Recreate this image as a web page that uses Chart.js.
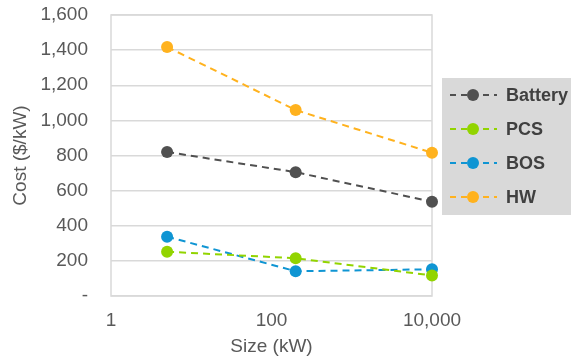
<!DOCTYPE html>
<html>
<head>
<meta charset="utf-8">
<script src="https://cdn.jsdelivr.net/npm/chart.js@4"></script>
<style>
  html, body { margin: 0; padding: 0; background: #fff; }
  #wrap { width: 571px; height: 360px; position: relative; }
</style>
</head>
<body>
<div id="wrap"><canvas id="chart"></canvas></div>
<script>
const sizes = [5, 200, 10000];
const seriesNames = ["Battery", "PCS", "BOS", "HW"];
const battery = [820, 705, 537];
const pcs = [252, 215, 117];
const bos = [338, 141, 152];
const hw = [1418, 1059, 816];
const seriesColors = ["#505050", "#92d400", "#0f95d3", "#ffb21e"];
const xTicks = [1, 100, 10000];

const font = "'Liberation Sans', Arial, sans-serif";
const textColor = "#595959";

const allValues = [battery, pcs, bos, hw];
const datasets = seriesNames.map((name, i) => ({
  label: name,
  data: sizes.map((s, j) => ({ x: s, y: allValues[i][j] })),
  borderColor: seriesColors[i],
  backgroundColor: seriesColors[i],
  borderWidth: 2,
  borderDash: [7, 5],
  pointRadius: 6,
  pointHoverRadius: 6,
  pointBorderWidth: 0,
  clip: false,
}));

// border around the plot area + grey legend box on the right
const framePlugin = {
  id: "frame",
  beforeDatasetsDraw(chart) {
    const { ctx, chartArea: a } = chart;
    ctx.save();
    ctx.strokeStyle = "#d9d9d9";
    ctx.lineWidth = 1.5;
    ctx.strokeRect(a.left, a.top, a.right - a.left, a.bottom - a.top);
    ctx.restore();
  },
  afterDraw(chart) {
    const { ctx } = chart;
    ctx.save();
    ctx.fillStyle = "#d9d9d9";
    ctx.fillRect(442, 78, 140, 137);
    chart.data.datasets.forEach((ds, i) => {
      const y = 95 + i * 34;
      ctx.strokeStyle = ds.borderColor;
      ctx.lineWidth = 2;
      ctx.setLineDash([6, 5]);
      ctx.beginPath();
      ctx.moveTo(450, y);
      ctx.lineTo(497, y);
      ctx.stroke();
      ctx.setLineDash([]);
      ctx.fillStyle = ds.backgroundColor;
      ctx.beginPath();
      ctx.arc(473, y, 6, 0, Math.PI * 2);
      ctx.fill();
      ctx.fillStyle = "#404040";
      ctx.font = "bold 18px " + font;
      ctx.textBaseline = "middle";
      ctx.fillText(ds.label, 506, y + 1);
    });
    ctx.restore();
  },
};

new Chart(document.getElementById("chart"), {
  type: "line",
  data: { datasets },
  plugins: [framePlugin],
  options: {
    responsive: true,
    maintainAspectRatio: false,
    animation: false,
    layout: { padding: { left: 0, top: 15, right: 139, bottom: 0 } },
    plugins: { legend: { display: false }, tooltip: { enabled: false } },
    scales: {
      x: {
        type: "logarithmic",
        min: 1,
        max: 10000,
        afterBuildTicks(axis) {
          axis.ticks = xTicks.map((v) => ({ value: v }));
        },
        afterFit(axis) {
          axis.height = 64;
          axis.paddingLeft = 0;
          axis.paddingRight = 0;
        },
        grid: { display: false, drawTicks: false },
        border: { display: false },
        ticks: {
          color: textColor,
          font: { family: font, size: 19 },
          padding: 13,
          maxRotation: 0,
          autoSkip: false,
          callback: (v) => v.toLocaleString("en-US"),
        },
        title: {
          display: true,
          text: "Size (kW)",
          color: textColor,
          font: { family: font, size: 19 },
          padding: { top: 0, bottom: 2 },
        },
      },
      y: {
        min: 0,
        max: 1600,
        afterFit(axis) {
          axis.width = 111;
          axis.paddingTop = 0;
          axis.paddingBottom = 0;
        },
        grid: { color: "#d9d9d9", lineWidth: 1.5, drawTicks: false },
        border: { display: false },
        ticks: {
          stepSize: 200,
          color: textColor,
          font: { family: font, size: 19 },
          padding: 23,
          callback: (v) => (v === 0 ? "-" : v.toLocaleString("en-US")),
        },
        title: {
          display: true,
          text: "Cost ($/kW)",
          color: textColor,
          font: { family: font, size: 19 },
          padding: { top: 9, bottom: 0 },
        },
      },
    },
  },
});
</script>
</body>
</html>
